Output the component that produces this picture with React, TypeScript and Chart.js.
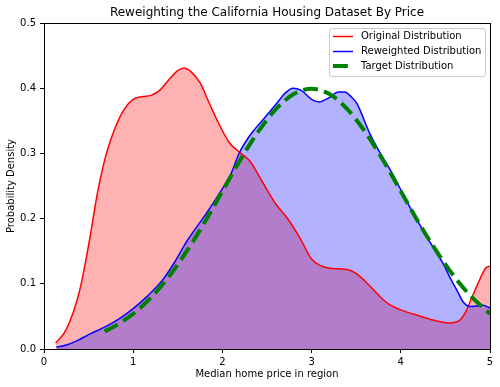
import React, { useEffect, useRef } from "react";
import { Chart, registerables } from "chart.js";

Chart.register(...registerables);

const TITLE = "Reweighting the California Housing Dataset By Price";
const X_LABEL = "Median home price in region";
const Y_LABEL = "Probability Density";
const SERIES_NAMES = ["Original Distribution", "Reweighted Distribution", "Target Distribution"];
const X_TICKS = [0, 1, 2, 3, 4, 5];
const Y_TICKS = [0, 0.1, 0.2, 0.3, 0.4, 0.5];

const origX = [0.13, 0.25, 0.4, 0.51, 0.6, 0.7, 0.8, 0.9, 1.0, 1.1, 1.2, 1.3, 1.4, 1.5, 1.57, 1.65, 1.75, 1.85, 1.94, 2.08, 2.19, 2.31, 2.4, 2.5, 2.6, 2.72, 2.87, 3.0, 3.1, 3.2, 3.3, 3.4, 3.5, 3.6, 3.7, 3.8, 3.9, 4.0, 4.2, 4.4, 4.55, 4.65, 4.72, 4.8, 4.88, 4.95, 5.0];
const origY = [0.009, 0.03, 0.09, 0.167, 0.24, 0.3, 0.34, 0.368, 0.383, 0.387, 0.389, 0.397, 0.413, 0.427, 0.431, 0.425, 0.408, 0.378, 0.351, 0.316, 0.302, 0.288, 0.268, 0.244, 0.222, 0.202, 0.17, 0.138, 0.128, 0.124, 0.123, 0.122, 0.116, 0.104, 0.09, 0.076, 0.066, 0.06, 0.051, 0.043, 0.04, 0.043, 0.055, 0.08, 0.105, 0.124, 0.127];

const reweightX = [0.14, 0.25, 0.36, 0.5, 0.7, 0.85, 1.0, 1.15, 1.33, 1.45, 1.6, 1.82, 2.0, 2.1, 2.19, 2.3, 2.45, 2.61, 2.7, 2.79, 2.88, 3.0, 3.09, 3.2, 3.3, 3.37, 3.45, 3.51, 3.65, 3.75, 3.88, 4.02, 4.1, 4.3, 4.47, 4.55, 4.63, 4.7, 4.78, 4.85, 4.92, 5.0];
const reweightY = [0.003, 0.006, 0.012, 0.022, 0.035, 0.047, 0.062, 0.08, 0.106, 0.13, 0.165, 0.208, 0.246, 0.27, 0.301, 0.326, 0.351, 0.377, 0.392, 0.4, 0.397, 0.383, 0.379, 0.386, 0.394, 0.394, 0.386, 0.376, 0.331, 0.305, 0.275, 0.239, 0.218, 0.17, 0.132, 0.11, 0.09, 0.072, 0.065, 0.066, 0.067, 0.063];

const targetX = [0.68, 0.8, 1.0, 1.2, 1.4, 1.6, 1.8, 2.0, 2.2, 2.4, 2.6, 2.8, 3.0, 3.2, 3.4, 3.6, 3.8, 4.0, 4.2, 4.4, 4.6, 4.8, 5.0];
const targetY = [0.027, 0.0355, 0.054, 0.079, 0.111, 0.15, 0.194, 0.242, 0.29, 0.333, 0.368, 0.391, 0.399, 0.391, 0.368, 0.333, 0.29, 0.242, 0.194, 0.15, 0.111, 0.079, 0.054];

const zip = (xs: number[], ys: number[]) => xs.map((x, i) => ({ x, y: ys[i] }));

const FONT = "'DejaVu Sans', sans-serif";

const overlayPlugin = {
  id: "overlay",
  afterDraw(chart: any) {
    const ctx = chart.ctx as CanvasRenderingContext2D;
    const a = chart.chartArea;
    ctx.save();
    // spines
    ctx.strokeStyle = "#000";
    ctx.lineWidth = 1;
    ctx.strokeRect(Math.round(a.left) + 0.5, Math.round(a.top) + 0.5, Math.round(a.right - a.left), Math.round(a.bottom - a.top));
    // title
    ctx.fillStyle = "#000";
    ctx.font = `12px ${FONT}`;
    ctx.textAlign = "center";
    ctx.textBaseline = "alphabetic";
    ctx.fillText(TITLE, (a.left + a.right) / 2, 16);
    // legend
    const lx = 329.5, ly = 28.5, lw = 156, lh = 48, r = 2.5;
    ctx.beginPath();
    ctx.moveTo(lx + r, ly);
    ctx.lineTo(lx + lw - r, ly);
    ctx.quadraticCurveTo(lx + lw, ly, lx + lw, ly + r);
    ctx.lineTo(lx + lw, ly + lh - r);
    ctx.quadraticCurveTo(lx + lw, ly + lh, lx + lw - r, ly + lh);
    ctx.lineTo(lx + r, ly + lh);
    ctx.quadraticCurveTo(lx, ly + lh, lx, ly + lh - r);
    ctx.lineTo(lx, ly + r);
    ctx.quadraticCurveTo(lx, ly, lx + r, ly);
    ctx.closePath();
    ctx.fillStyle = "rgba(255,255,255,0.8)";
    ctx.fill();
    ctx.strokeStyle = "#cccccc";
    ctx.stroke();
    const rows = [
      { color: "#ff0000", width: 1.5, dash: [] as number[], y: 36.5 },
      { color: "#0000ff", width: 1.5, dash: [] as number[], y: 51.5 },
      { color: "#008000", width: 4, dash: [14.8, 6.4], y: 66 },
    ];
    ctx.font = `10px ${FONT}`;
    ctx.textAlign = "left";
    ctx.textBaseline = "middle";
    rows.forEach((row, i) => {
      ctx.beginPath();
      ctx.setLineDash(row.dash);
      ctx.lineCap = "butt";
      ctx.strokeStyle = row.color;
      ctx.lineWidth = row.width;
      ctx.moveTo(333, row.y);
      ctx.lineTo(353, row.y);
      ctx.stroke();
      ctx.setLineDash([]);
      ctx.fillStyle = "#000";
      ctx.fillText(SERIES_NAMES[i], 361, row.y);
    });
    ctx.restore();
  },
};

export default function App() {
  const ref = useRef<HTMLCanvasElement | null>(null);
  useEffect(() => {
    if (!ref.current) return;
    document.body.style.margin = "0";
    Chart.defaults.font.family = FONT;
    const chart = new Chart(ref.current, {
      type: "scatter",
      data: {
        datasets: [
          {
            label: SERIES_NAMES[2],
            data: zip(targetX, targetY),
            showLine: true,
            borderColor: "#008000",
            borderWidth: 4,
            borderDash: [14.8, 6.4],
            borderCapStyle: "butt",
            pointRadius: 0,
            fill: false,
            cubicInterpolationMode: "monotone",
            order: 0,
          },
          {
            label: SERIES_NAMES[1],
            data: zip(reweightX, reweightY),
            showLine: true,
            borderColor: "#0000ff",
            borderWidth: 1.5,
            backgroundColor: "rgba(0,0,255,0.3)",
            pointRadius: 0,
            fill: "origin",
            cubicInterpolationMode: "monotone",
            order: 1,
          },
          {
            label: SERIES_NAMES[0],
            data: zip(origX, origY),
            showLine: true,
            borderColor: "#ff0000",
            borderWidth: 1.5,
            backgroundColor: "rgba(255,0,0,0.3)",
            pointRadius: 0,
            fill: "origin",
            cubicInterpolationMode: "monotone",
            order: 2,
          },
        ] as any,
      },
      options: {
        animation: false,
        responsive: false,
        devicePixelRatio: 1,
        layout: { padding: { top: 23, right: 10, left: 0, bottom: 0 } },
        plugins: {
          legend: { display: false },
          tooltip: { enabled: false },
          title: { display: false },
          filler: { drawTime: "beforeDatasetsDraw" },
        } as any,
        scales: {
          x: {
            type: "linear",
            min: 0,
            max: 5,
            afterFit: (s: any) => { s.height = 38; },
            afterBuildTicks: (s: any) => { s.ticks = X_TICKS.map((v) => ({ value: v })); },
            ticks: { color: "#000", font: { size: 10 }, padding: 3, maxRotation: 0, callback: (v: any) => String(v) },
            grid: { drawOnChartArea: false, drawTicks: true, tickLength: 4, tickColor: "#000", tickWidth: 1 },
            border: { display: true, color: "#000", width: 1 },
            title: { display: true, text: X_LABEL, color: "#000", font: { size: 10 }, padding: { top: 0, bottom: 7 } },
          },
          y: {
            type: "linear",
            min: 0,
            max: 0.5,
            afterFit: (s: any) => { s.width = 44; },
            afterBuildTicks: (s: any) => { s.ticks = Y_TICKS.map((v) => ({ value: v })); },
            ticks: { color: "#000", font: { size: 10 }, padding: 4, callback: (v: any) => Number(v).toFixed(1) },
            grid: { drawOnChartArea: false, drawTicks: true, tickLength: 4, tickColor: "#000", tickWidth: 1 },
            border: { display: true, color: "#000", width: 1 },
            title: { display: true, text: Y_LABEL, color: "#000", font: { size: 10 }, padding: { top: 5, bottom: 0 } },
          },
        },
      },
      plugins: [overlayPlugin],
    });
    return () => chart.destroy();
  }, []);
  return (
    <div style={{ position: "fixed", left: 0, top: 0, width: 500, height: 387, background: "#fff" }}>
      <canvas ref={ref} width={500} height={387} style={{ display: "block" }} />
    </div>
  );
}
